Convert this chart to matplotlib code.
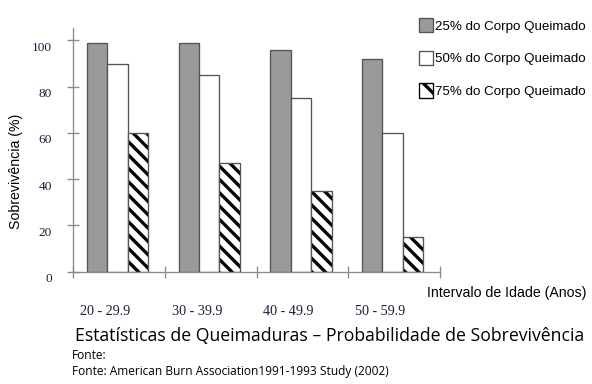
import matplotlib
matplotlib.use('Agg')
import matplotlib.pyplot as plt
import matplotlib.transforms as mtransforms
from matplotlib.patches import Patch
import numpy as np

categories = ['20 - 29.9', '30 - 39.9', '40 - 49.9', '50 - 59.9']
labels = ['25% do Corpo Queimado', '50% do Corpo Queimado', '75% do Corpo Queimado']
burn_25 = [99, 99, 96, 92]
burn_50 = [90, 85, 75, 60]
burn_75 = [60, 47, 35, 15]
yticks = [0, 20, 40, 60, 80, 100]

DPI = 120
W, H = 592, 384
AXIS_GRAY = '#8c8c8c'
EDGE = '#555555'
GRAY = '#9a9a9a'
NAVY = '#1c1c38'
HATCH = '\\\\\\'

plt.rcParams['hatch.linewidth'] = 2.0

fig = plt.figure(figsize=(W / DPI, H / DPI), dpi=DPI)
ax = fig.add_axes([73 / W, 1 - 271.5 / H, 367 / W, 243.5 / H])

x = np.arange(len(categories))
bw = 0.223
start = -0.35

ax.bar(x + start, burn_25, width=bw, align='edge', color=GRAY,
       edgecolor=EDGE, linewidth=0.8, zorder=2)
ax.bar(x + start + bw, burn_50, width=bw, align='edge', color='white',
       edgecolor=EDGE, linewidth=0.8, zorder=2)
# hatch takes the edge colour, so draw the black hatch first and the outline on top
ax.bar(x + start + 2 * bw, burn_75, width=bw, align='edge', color='white',
       edgecolor='black', linewidth=0, hatch=HATCH, zorder=2)
ax.bar(x + start + 2 * bw, burn_75, width=bw, align='edge', fill=False,
       edgecolor=EDGE, linewidth=0.8, zorder=3)

ax.set_xlim(-0.5, len(categories) - 0.5)
ax.set_ylim(0, 105.4)

for side in ['top', 'right']:
    ax.spines[side].set_visible(False)
for side in ['left', 'bottom']:
    ax.spines[side].set_color(AXIS_GRAY)
    ax.spines[side].set_linewidth(0.8)

# y axis
ax.set_yticks(yticks)
ax.set_yticklabels([str(v) for v in yticks], family='Liberation Serif',
                   fontsize=8, color=NAVY)
ax.tick_params(axis='y', direction='inout', length=7.2, width=0.8,
               color=AXIS_GRAY, pad=9)
shift = mtransforms.ScaledTranslation(0, -6 / DPI, fig.dpi_scale_trans)
for lab in ax.get_yticklabels():
    lab.set_transform(lab.get_transform() + shift)

ax.set_ylabel('Sobrevivência (%)', family='Liberation Sans', fontsize=8.5)
ax.yaxis.set_label_coords(-0.136, 0.413)

# x axis: separators as minor ticks, labels as major ticks
ax.set_xticks(np.arange(-0.5, len(categories)), minor=True)
ax.tick_params(axis='x', which='minor', direction='inout', length=7.2,
               width=0.8, color=AXIS_GRAY)
ax.set_xticks(x - 0.15)
ax.set_xticklabels(categories, family='Liberation Serif', fontsize=8.5,
                   color=NAVY)
ax.tick_params(axis='x', which='major', length=0, pad=20)

fig.text(586 / W, 1 - 293 / H, 'Intervalo de Idade (Anos)', ha='right',
         va='center', family='Liberation Sans', fontsize=8.5)

handles = [Patch(facecolor=GRAY, edgecolor=EDGE, linewidth=0.8),
           Patch(facecolor='white', edgecolor=EDGE, linewidth=0.8),
           Patch(facecolor='white', edgecolor='black', linewidth=0.8, hatch='\\\\')]
ax.legend(handles, labels, loc='upper left', bbox_to_anchor=(419 / W, 1 - 18 / H),
          bbox_transform=fig.transFigure, frameon=False,
          prop={'family': 'Liberation Sans', 'size': 8},
          handlelength=1.05, handleheight=1.28, handletextpad=0.15,
          labelspacing=1.35, borderpad=0, borderaxespad=0)

fig.text(75 / W, 1 - 341 / H,
         'Estatísticas de Queimaduras – Probabilidade de Sobrevivência',
         ha='left', va='baseline', family='Open Sans', fontsize=10.6)
fig.text(72 / W, 1 - 359 / H, 'Fonte:', ha='left', va='baseline',
         family='Open Sans', fontsize=7.1)
fig.text(72 / W, 1 - 375 / H,
         'Fonte: American Burn Association1991-1993 Study (2002)',
         ha='left', va='baseline', family='Open Sans', fontsize=7.1)

fig.savefig('out.png', dpi=DPI)
